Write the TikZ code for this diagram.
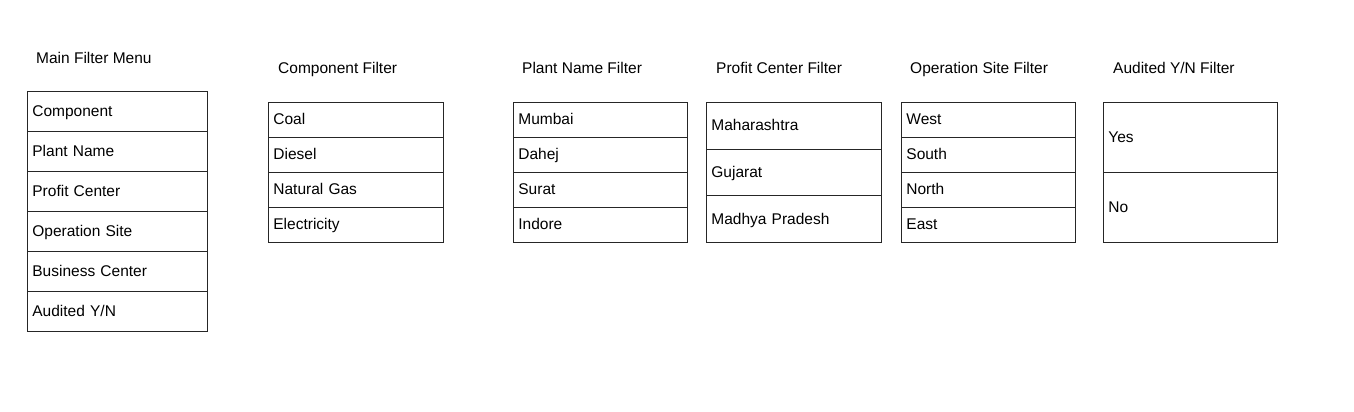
\documentclass[tikz,border=0pt]{standalone}
\usepackage{fontspec}
\setmainfont{Liberation Sans}
\usetikzlibrary{positioning}

\tikzset{
 cell/.style={draw=black!85, line width=.8pt, anchor=north west, inner xsep=5pt, inner ysep=0pt, text height=12, text depth=2, align=left, font=\fontsize{15.5}{18}\selectfont},
 caption/.style={anchor=base west, inner sep=0pt, font=\fontsize{15.5}{18}\selectfont}
}

\begin{document}
\begin{tikzpicture}[x=1pt,y=-1pt]
\useasboundingbox (0,0) rectangle (1354,412);
% titles
\node[caption] (maintitle) at (36,63.5) {Main Filter Menu};
\node[caption] (comptitle) at (278,74) {Component Filter};
\node[caption] (planttitle) at (522,74) {Plant Name Filter};
\node[caption] (profittitle) at (716,74) {Profit Center Filter};
\node[caption] (sitetitle) at (910,74) {Operation Site Filter};
\node[caption] (audittitle) at (1113,74) {Audited Y/N Filter};
% main menu
\foreach \t [count=\i] in {Component, Plant Name, Profit Center, Operation Site, Business Center, Audited Y/N}
 \node[cell, text width=170, minimum height=40] (main\i) at (27,{91+40*(\i-1)}) {\t};
% filters
\foreach \t [count=\i] in {Coal, Diesel, Natural Gas, Electricity}
 \node[cell, text width=165, minimum height=35] (comp\i) at (268,{102+35*(\i-1)}) {\t};
\foreach \t [count=\i] in {Mumbai, Dahej, Surat, Indore}
 \node[cell, text width=164, minimum height=35] (plant\i) at (513,{102+35*(\i-1)}) {\t};
\foreach \t [count=\i] in {Maharashtra, Gujarat, Madhya Pradesh}
 \node[cell, text width=165, minimum height=140/3] (profit\i) at (706,{102+140/3*(\i-1)}) {\t};
\foreach \t [count=\i] in {West, South, North, East}
 \node[cell, text width=164, minimum height=35] (site\i) at (901,{102+35*(\i-1)}) {\t};
\foreach \t [count=\i] in {Yes, No}
 \node[cell, text width=164, minimum height=70] (audit\i) at (1103,{102+70*(\i-1)}) {\t};
\end{tikzpicture}
\end{document}
